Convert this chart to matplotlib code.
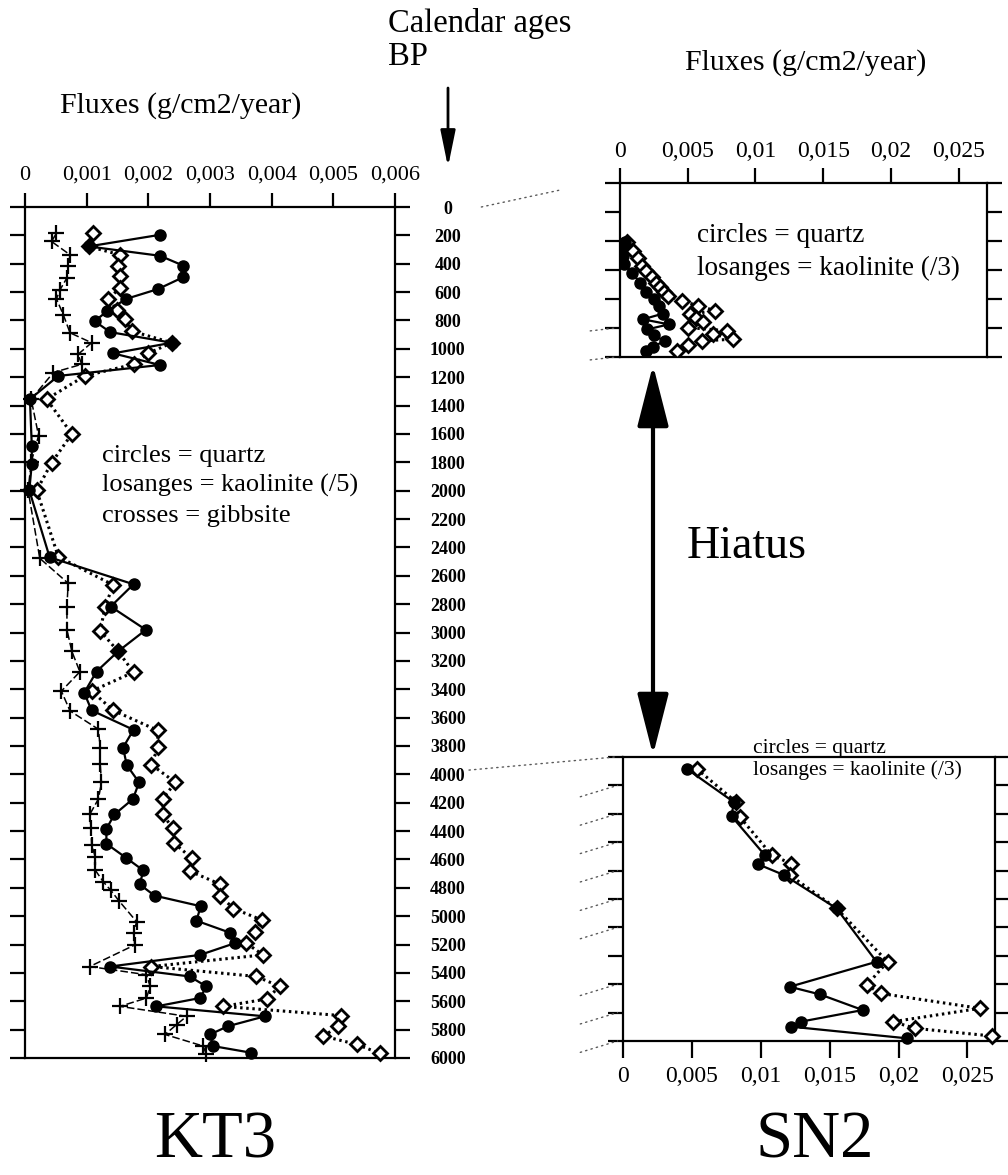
import matplotlib
matplotlib.use('Agg')
import matplotlib.pyplot as plt
from matplotlib.patches import ConnectionPatch

plt.rcParams['font.family'] = ['Liberation Serif', 'DejaVu Serif']

# ---------------- KT3 data (flux in g/cm2/year, age in calendar years BP) ----------------
kt3_quartz_age = [196, 278, 344, 414, 494, 578, 648, 735, 805, 882, 957, 1032, 1114, 1191, 1355,
                  1682, 1811, 1998, 2470, 2660, 2817, 2981, 3133, 3275, 3425, 3549, 3686, 3811,
                  3935, 4057, 4174, 4283, 4384, 4489, 4589, 4678, 4776, 4855, 4930, 5032, 5116,
                  5191, 5273, 5355, 5425, 5495, 5577, 5636, 5706, 5776, 5834, 5916, 5963]
kt3_quartz_flux = [0.00219, 0.00103, 0.00219, 0.00257, 0.00257, 0.00216, 0.00164, 0.00133, 0.00113,
                   0.00138, 0.00238, 0.00143, 0.00219, 0.00054, 0.00008, 0.00011, 0.00011, 0.00007,
                   0.00040, 0.00176, 0.00139, 0.00196, 0.00151, 0.00116, 0.00096, 0.00108, 0.00176,
                   0.00159, 0.00165, 0.00185, 0.00175, 0.00145, 0.00132, 0.00132, 0.00164, 0.00192,
                   0.00186, 0.00210, 0.00285, 0.00278, 0.00332, 0.00340, 0.00284, 0.00138, 0.00267,
                   0.00294, 0.00284, 0.00213, 0.00389, 0.00329, 0.00300, 0.00305, 0.00367]

kt3_kaol_age = [185, 278, 337, 419, 489, 571, 648, 723, 793, 875, 957, 1032, 1109, 1191, 1355,
                1600, 1804, 1998, 2466, 2665, 2817, 2988, 3133, 3280, 3413, 3549, 3690, 3805,
                3932, 4057, 4174, 4283, 4380, 4483, 4589, 4682, 4776, 4858, 4946, 5027, 5109,
                5191, 5273, 5355, 5425, 5495, 5584, 5636, 5701, 5776, 5846, 5904, 5967]
kt3_kaol_flux = [0.00111, 0.00103, 0.00154, 0.00151, 0.00154, 0.00154, 0.00135, 0.00149, 0.00162,
                 0.00173, 0.00238, 0.00200, 0.00176, 0.00097, 0.00035, 0.00076, 0.00043, 0.00019,
                 0.00054, 0.00143, 0.00130, 0.00122, 0.00151, 0.00176, 0.00108, 0.00143, 0.00215,
                 0.00216, 0.00205, 0.00244, 0.00223, 0.00223, 0.00240, 0.00241, 0.00270, 0.00267,
                 0.00317, 0.00317, 0.00338, 0.00384, 0.00373, 0.00359, 0.00386, 0.00205, 0.00375,
                 0.00413, 0.00392, 0.00321, 0.00513, 0.00508, 0.00484, 0.00538, 0.00575]

kt3_gibb_age = [185, 243, 337, 419, 500, 582, 648, 758, 887, 957, 1039, 1109, 1167, 1355, 1612,
                1800, 1998, 2477, 2653, 2817, 2981, 3133, 3277, 3413, 3553, 3682, 3811, 3930,
                4057, 4174, 4283, 4378, 4495, 4583, 4676, 4758, 4817, 4890, 5039, 5121, 5203,
                5355, 5413, 5495, 5577, 5636, 5706, 5764, 5834, 5916, 5974]
kt3_gibb_flux = [0.00051, 0.00043, 0.00073, 0.00070, 0.00068, 0.00057, 0.00051, 0.00062, 0.00073,
                 0.00108, 0.00086, 0.00092, 0.00046, 0.00010, 0.00022, 0.00010, 0.00005, 0.00024,
                 0.00070, 0.00068, 0.00068, 0.00076, 0.00089, 0.00059, 0.00073, 0.00119, 0.00122,
                 0.00122, 0.00124, 0.00119, 0.00105, 0.00107, 0.00108, 0.00114, 0.00114, 0.00127,
                 0.00139, 0.00152, 0.00181, 0.00176, 0.00178, 0.00105, 0.00197, 0.00203, 0.00197,
                 0.00154, 0.00262, 0.00246, 0.00227, 0.00289, 0.00294]

# ---------------- SN2 data ----------------
sn2_top_quartz_age = [410, 450, 500, 560, 620, 690, 750, 800, 850, 900, 940, 975, 1010, 1050,
                      1090, 1130, 1160]
sn2_top_quartz_flux = [0.00035, 0.00015, 0.00025, 0.00030, 0.00090, 0.00150, 0.00190, 0.00250,
                       0.00290, 0.00320, 0.00170, 0.00360, 0.00200, 0.00250, 0.00330, 0.00240,
                       0.00190]
sn2_top_kaol_age = [408, 466, 520, 570, 610, 650, 690, 720, 750, 777, 815, 846, 881, 904, 930,
                    962, 997, 1019, 1042, 1077, 1089, 1120, 1158]
sn2_top_kaol_flux = [0.00049, 0.00099, 0.00130, 0.00160, 0.00195, 0.00234, 0.00265, 0.00296,
                     0.00325, 0.00357, 0.00460, 0.00579, 0.00703, 0.00518, 0.00560, 0.00616,
                     0.00505, 0.00789, 0.00690, 0.00838, 0.00604, 0.00500, 0.00419]

sn2_bot_quartz_age = [4082, 4317, 4417, 4692, 4755, 4832, 5066, 5442, 5618, 5672, 5782, 5864,
                      5899, 5981]
sn2_bot_quartz_flux = [0.00461, 0.00804, 0.00788, 0.0103, 0.0098, 0.0117, 0.0155, 0.0184, 0.0121,
                       0.0143, 0.0174, 0.0129, 0.0122, 0.0206]
sn2_bot_kaol_age = [4082, 4317, 4422, 4692, 4750, 4832, 5066, 5442, 5606, 5665, 5770, 5864,
                    5911, 5965]
sn2_bot_kaol_flux = [0.00534, 0.0082, 0.00848, 0.0108, 0.0122, 0.0121, 0.0155, 0.0192, 0.0177,
                     0.0187, 0.0259, 0.0196, 0.0212, 0.0268]

# ---------------- ticks ----------------
kt3_xticks = [0, 0.001, 0.002, 0.003, 0.004, 0.005, 0.006]
kt3_xticklabels = ['0', '0,001', '0,002', '0,003', '0,004', '0,005', '0,006']
kt3_yticks = list(range(0, 6001, 200))
sn2_xticks = [0, 0.005, 0.01, 0.015, 0.02, 0.025]
sn2_xticklabels = ['0', '0,005', '0,01', '0,015', '0,02', '0,025']
sn2_top_yticks = list(range(0, 1201, 200))
sn2_bot_yticks = list(range(4000, 6001, 200))
tie_stub_ages = [4200, 4400, 4600, 4800, 5000, 5200, 5600, 5800, 6000]

W, H = 1008, 1175
fig = plt.figure(figsize=(W / 100, H / 100), dpi=100, facecolor='white')


def rect(l, t, r, b):
    return [l / W, 1 - b / H, (r - l) / W, (b - t) / H]


def fx(px):
    return px / W


def fy(py):
    return 1 - py / H


LW = 1.6
circ = dict(color='black', lw=1.6, ls='-', marker='o', ms=8, mfc='black', mec='black', zorder=5)
diam = dict(color='black', lw=2.2, ls=(0, (0.8, 1.2)), marker='D', ms=7.5, mfc='white', mec='black',
            mew=2.0, zorder=4)
cross = dict(color='black', lw=1.1, ls=(0, (5, 2)), marker='+', ms=12, mew=1.6, zorder=3)


def style_axes(ax):
    for s in ax.spines.values():
        s.set_linewidth(LW)
    ax.set_facecolor('none')


# ---------------- KT3 ----------------
ax1 = fig.add_axes(rect(25, 207, 395, 1058))
style_axes(ax1)
ax1.plot(kt3_gibb_flux, kt3_gibb_age, **cross)
ax1.plot(kt3_kaol_flux, kt3_kaol_age, **diam)
ax1.plot(kt3_quartz_flux, kt3_quartz_age, **circ)
ax1.set_xlim(0, 0.006)
ax1.set_ylim(6000, 0)
ax1.xaxis.tick_top()
ax1.set_xticks(kt3_xticks)
ax1.set_xticklabels(kt3_xticklabels, fontsize=16)
ax1.tick_params(axis='x', top=True, bottom=False, direction='out', length=10, width=LW, pad=6)
ax1.set_yticks(kt3_yticks)
ax1.set_yticklabels([str(v) for v in kt3_yticks], fontsize=13, fontweight='bold')
ax1.tick_params(axis='y', left=True, right=True, labelleft=False, labelright=True,
                direction='out', length=11, width=LW, pad=27)
for lab in ax1.get_yticklabels():
    lab.set_ha('center')
for c in (ax1.get_xticklines() + ax1.get_yticklines()):
    c.set_clip_on(False)
for l in ax1.lines:
    l.set_clip_on(False)

# ---------------- SN2 top ----------------
ax2 = fig.add_axes(rect(620, 183, 987, 357))
style_axes(ax2)
ax2.plot(sn2_top_kaol_flux, sn2_top_kaol_age, **diam)
ax2.plot(sn2_top_quartz_flux, sn2_top_quartz_age, **circ)
ax2.set_xlim(0, 0.0271)
ax2.set_ylim(1200, 0)
ax2.xaxis.tick_top()
ax2.set_xticks(sn2_xticks)
ax2.set_xticklabels(sn2_xticklabels, fontsize=17)
ax2.tick_params(axis='x', top=True, bottom=False, direction='out', length=11, width=LW, pad=4)
ax2.set_yticks(sn2_top_yticks)
ax2.tick_params(axis='y', left=True, right=True, labelleft=False, labelright=False,
                direction='out', length=11, width=LW)

# ---------------- SN2 bottom ----------------
ax3 = fig.add_axes(rect(623, 757, 995, 1041))
style_axes(ax3)
ax3.plot(sn2_bot_kaol_flux, sn2_bot_kaol_age, **diam)
ax3.plot(sn2_bot_quartz_flux, sn2_bot_quartz_age, **circ)
for l in ax3.lines:
    l.set_clip_on(False)
ax3.set_xlim(0, 0.027)
ax3.set_ylim(6000, 4000)
ax3.set_xticks(sn2_xticks)
ax3.set_xticklabels(sn2_xticklabels, fontsize=17)
ax3.tick_params(axis='x', top=False, bottom=True, direction='out', length=12, width=LW, pad=6)
ax3.set_yticks(sn2_bot_yticks)
ax3.tick_params(axis='y', left=True, right=True, labelleft=False, labelright=False,
                direction='out', length=11, width=LW)

# ---------------- tie lines between cores ----------------
tie_kw = dict(color='0.35', lw=1.0, ls=(0, (1, 3)), zorder=1)
fig.add_artist(ConnectionPatch(xyA=(0.0074, 0), coordsA=ax1.transData,
                               xyB=(-0.0045, 50), coordsB=ax2.transData, **tie_kw))
fig.add_artist(ConnectionPatch(xyA=(0.0072, 3970), coordsA=ax1.transData,
                               xyB=(-0.0006, 4000), coordsB=ax3.transData, **tie_kw))
for a in tie_stub_ages:
    fig.add_artist(ConnectionPatch(xyA=(-0.0031, a + 80), coordsA=ax3.transData,
                                   xyB=(-0.0004, a), coordsB=ax3.transData, **tie_kw))
for a in (1000, 1200):
    fig.add_artist(ConnectionPatch(xyA=(-0.0022, a + 20), coordsA=ax2.transData,
                                   xyB=(-0.0003, a), coordsB=ax2.transData, **tie_kw))

# ---------------- texts ----------------
fig.text(fx(388), fy(32), 'Calendar ages', fontsize=23.5, ha='left', va='baseline')
fig.text(fx(388), fy(65), 'BP', fontsize=23.5, ha='left', va='baseline')
fig.text(fx(60), fy(113), 'Fluxes (g/cm2/year)', fontsize=21.5, ha='left', va='baseline')
fig.text(fx(685), fy(70), 'Fluxes (g/cm2/year)', fontsize=21.5, ha='left', va='baseline')

fig.text(fx(102), fy(462), 'circles = quartz', fontsize=19, ha='left', va='baseline')
fig.text(fx(102), fy(492), 'losanges = kaolinite (/5)', fontsize=19, ha='left', va='baseline')
fig.text(fx(102), fy(522), 'crosses = gibbsite', fontsize=19, ha='left', va='baseline')

fig.text(fx(697), fy(242), 'circles = quartz', fontsize=19.5, ha='left', va='baseline')
fig.text(fx(697), fy(275), 'losanges = kaolinite (/3)', fontsize=19.5, ha='left', va='baseline')

fig.text(fx(753), fy(753), 'circles = quartz', fontsize=15.5, ha='left', va='baseline')
fig.text(fx(753), fy(775), 'losanges = kaolinite (/3)', fontsize=15.5, ha='left', va='baseline')

fig.text(fx(687), fy(558), 'Hiatus', fontsize=33, ha='left', va='baseline')

fig.text(fx(215), fy(1158), 'KT3', fontsize=48, ha='center', va='baseline')
fig.text(fx(815), fy(1158), 'SN2', fontsize=48, ha='center', va='baseline')

# arrows
fig.add_artist(matplotlib.patches.FancyArrowPatch(
    (fx(448), fy(88)), (fx(448), fy(167)), transform=fig.transFigure,
    arrowstyle='-|>,head_length=2.2,head_width=0.45', mutation_scale=10,
    color='black', lw=2, shrinkA=0, shrinkB=0))
fig.add_artist(matplotlib.patches.FancyArrowPatch(
    (fx(653), fy(365)), (fx(653), fy(755)), transform=fig.transFigure,
    arrowstyle='<|-|>,head_length=3.8,head_width=0.97', mutation_scale=10,
    color='black', lw=3, shrinkA=0, shrinkB=0))

fig.savefig('out.png', dpi=100, facecolor='white')
